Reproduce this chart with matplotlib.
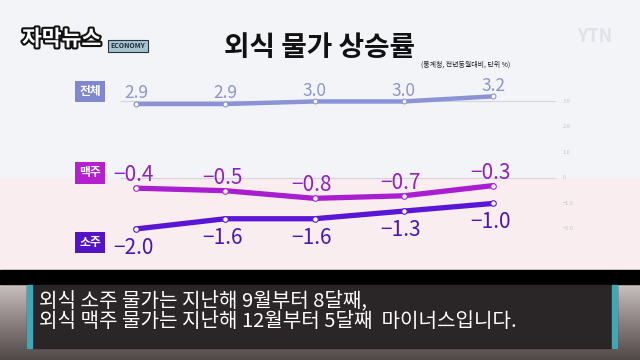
import numpy as np
import matplotlib.pyplot as plt
import matplotlib.patheffects as pe
from matplotlib.patches import Rectangle

plt.rcParams['font.family'] = ['Noto Sans CJK KR', 'DejaVu Sans']

# 데이터
years = ['2024년', '2025년', '', '', '']
months = ['12월', '1월', '2월', '3월', '4월']
total = [2.9, 2.9, 3.0, 3.0, 3.2]
beer = [-0.4, -0.5, -0.8, -0.7, -0.3]
soju = [-2.0, -1.6, -1.6, -1.3, -1.0]
grid_vals = [3.0, 0]
scale_ticks = [3.0, 2.0, 1.0, 0, -1.0, -2.0]
caption = ['외식 소주 물가는 지난해 9월부터 8달째,',
           '외식 맥주 물가는 지난해 12월부터 5달째  마이너스입니다.']

c_total = '#8b93d6'
c_beer = '#a91fd0'
c_soju = '#5a16d4'

fig = plt.figure(figsize=(6.4, 3.6), dpi=100)
fig.patch.set_facecolor('#f3f4f8')

# 차트 영역
ax = fig.add_axes([0, 90 / 360, 1, 230 / 360])
ax.set_xlim(-1.524, 5.647)
ax.set_ylim(-3.61, 5.41)
ax.axis('off')
ax.axhspan(-3.61, 0, color='#f9edef', zorder=0)

x = np.arange(len(months))

ax.hlines(grid_vals, -0.18, 4.69, color='#d3d4dc', lw=0.8, zorder=1)
for v in scale_ticks:
    lab = '0' if v == 0 else f'{v:.1f}'.replace('-', '−')
    ax.text(4.78, v, lab, fontsize=4, color='#c4c5cf', ha='left', va='center')

ax.plot(x, total, color=c_total, lw=3.2, marker='o', ms=3.5, mfc='white',
        mec=c_total, mew=0.8, solid_capstyle='round', zorder=3)
ax.plot(x, beer, color=c_beer, lw=3.8, marker='o', ms=4, mfc='white',
        mec=c_beer, mew=0.8, solid_capstyle='round', zorder=3)
ax.plot(x, soju, color=c_soju, lw=3.8, marker='o', ms=4, mfc='white',
        mec=c_soju, mew=0.8, solid_capstyle='round', zorder=3)

for xi, v in zip(x, total):
    ax.annotate(f'{v:.1f}', (xi, v), xytext=(0, 4), textcoords='offset points',
                ha='center', va='baseline', fontsize=12.5, color='#8f95c6')
for xi, v in zip(x, beer):
    ax.annotate(f'{v:.1f}'.replace('-', '−'), (xi, v), xytext=(-2, 5),
                textcoords='offset points', ha='center', va='baseline',
                fontsize=15, fontweight='medium', color='#9220c0')
for xi, v in zip(x, soju):
    ax.annotate(f'{v:.1f}'.replace('-', '−'), (xi, v), xytext=(-2, -18),
                textcoords='offset points', ha='center', va='baseline',
                fontsize=15, fontweight='medium', color='#4a16b4')

# 시리즈 이름표
tags = [('전체', total[0], '#7f87cf', 9), ('맥주', beer[0], '#b41fcf', 11),
        ('소주', soju[0], '#5314c8', -10)]
for name, v, col, dy in tags:
    ax.annotate(name, (x[0], v), xytext=(-33, dy), textcoords='offset points',
                ha='center', va='center', fontsize=8.5, fontweight='bold',
                color='white',
                bbox=dict(boxstyle='square,pad=0.35', fc=col, ec='none'))

# x축 띠
fig.patches.append(Rectangle((0, 76 / 360), 1, 14 / 360, transform=fig.transFigure,
                             color='black', zorder=5))
xt = ax.get_xaxis_transform()
for xi, yr, m in zip(x, years, months):
    t = ax.annotate(m, (xi, -0.03), xycoords=xt, ha='center', va='center',
                    fontsize=8, fontweight='medium', color='white', zorder=6,
                    annotation_clip=False)
    if yr:
        ax.annotate(yr, (0, 0.5), xycoords=t, xytext=(-1.5, 0),
                    textcoords='offset points', ha='right', va='center',
                    fontsize=4, color='white', zorder=6, annotation_clip=False)

# 자막 영역
bg = fig.add_axes([0, 0, 1, 76 / 360])
grad = np.linspace(0, 1, 100).reshape(-1, 1)
bg.imshow(grad, aspect='auto', cmap=plt.matplotlib.colors.LinearSegmentedColormap.from_list(
    'g', ['#c9c1c0', '#8a8180', '#514848']), extent=[0, 1, 0, 1])
bg.axis('off')
fig.patches.append(Rectangle((27 / 640, 12 / 360), 590 / 640, 63 / 360,
                             transform=fig.transFigure, color='#2a2527', zorder=5))
for xl in (27, 612):
    fig.patches.append(Rectangle((xl / 640, 12 / 360), 5 / 640, 63 / 360,
                                 transform=fig.transFigure, color='#41a7b6', zorder=6))
for i, line in enumerate(caption):
    fig.text(39 / 640, (360 - 301 - 20.5 * i) / 360, line, fontsize=14.5,
             fontweight='medium', color='white', ha='left', va='center', zorder=7)

# 제목
fig.text(320 / 640, (360 - 48) / 360, '외식 물가 상승률', fontsize=20,
         fontweight='bold', color='#111111', ha='center', va='center')
fig.text(421 / 640, (360 - 67) / 360, '(통계청, 전년동월대비, 단위 %)', fontsize=5,
         color='#222222', ha='left', va='baseline')

# 로고
fig.text(22 / 640, (360 - 39) / 360, '자막뉴스', fontsize=15.5, fontweight='bold',
         color='white', ha='left', va='center',
         path_effects=[pe.withStroke(linewidth=3, foreground='#111111')])
fig.text(128 / 640, (360 - 46) / 360, 'ECONOMY', fontsize=5, fontweight='bold',
         color='#1b2f3c', ha='center', va='center',
         bbox=dict(boxstyle='square,pad=0.35', fc='#a8c3cf', ec='#233440', lw=0.8))
fig.text(595 / 640, (360 - 36) / 360, 'YTN', fontsize=13, fontweight='bold',
         color='#e1e2e9', ha='center', va='center')

fig.savefig('out.png', dpi=100)
